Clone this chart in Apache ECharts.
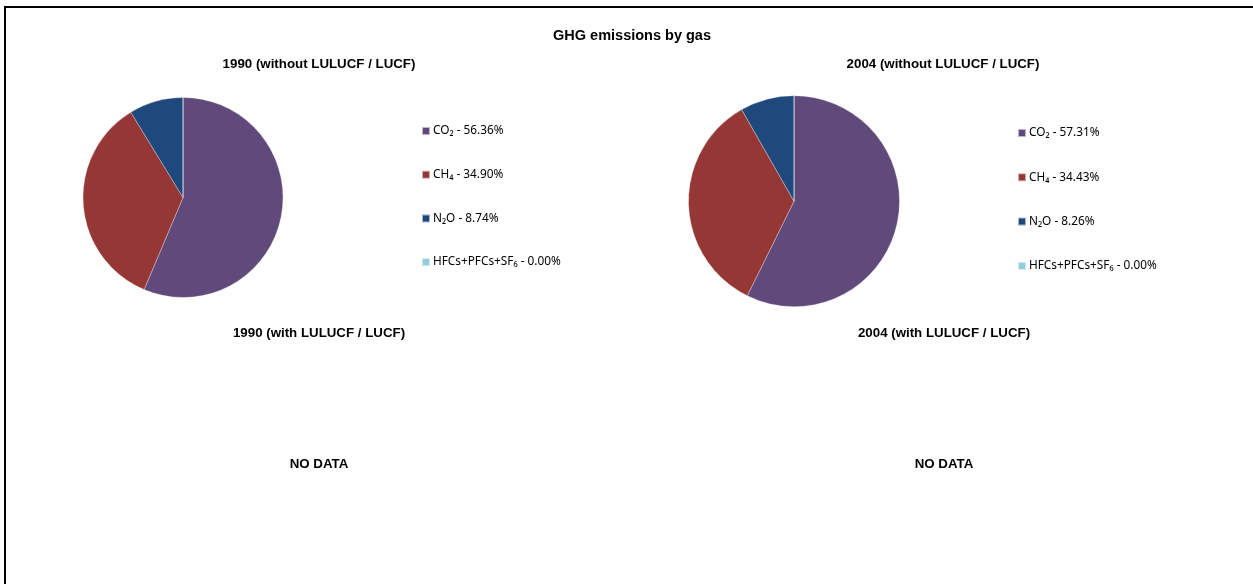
<!DOCTYPE html>
<html>
<head>
<meta charset="utf-8">
<script src="https://cdn.jsdelivr.net/npm/echarts@6/dist/echarts.min.js"></script>
<style>
html,body{margin:0;padding:0;background:#fff;}
#chart{width:1253px;height:584px;}
</style>
</head>
<body>
<div id="chart"></div>
<script>
// ---- data ----
const gases = ['CO₂', 'CH₄', 'N₂O', 'HFCs+PFCs+SF₆'];
const values1990 = [56.36, 34.90, 8.74, 0.00];
const values2004 = [57.31, 34.43, 8.26, 0.00];
const gasColors = ['#604A7B', '#953735', '#1F497D', '#93CDDD'];
const mainTitle = 'GHG emissions by gas';
const panelTitles = ['1990 (without LULUCF / LUCF)', '2004 (without LULUCF / LUCF)', '1990 (with LULUCF / LUCF)', '2004 (with LULUCF / LUCF)'];
const noDataText = 'NO DATA';

const chart = echarts.init(document.getElementById('chart'), null, {renderer: 'canvas'});

const boldFont = 'Liberation Sans, Arial, sans-serif';
const legendFont = 'Noto Sans, DejaVu Sans, sans-serif';

function mkTitle(text, x, y, size) {
  return {
    text: text, left: x, top: y, padding: 0,
    textAlign: 'center', textVerticalAlign: 'middle',
    textStyle: {fontFamily: boldFont, fontWeight: 'bold', fontSize: size, color: '#000'}
  };
}

function mkData(vals) {
  return gases.map((g, i) => ({name: g, value: vals[i], itemStyle: {color: gasColors[i]}}));
}

function mkLegend(vals, x, y, gap) {
  return {
    orient: 'vertical', left: x, top: y, padding: 0,
    itemWidth: 8, itemHeight: 8, itemGap: gap, icon: 'rect',
    data: gases,
    selectedMode: false,
    formatter: function (name) {
      const i = gases.indexOf(name);
      return name + ' - ' + vals[i].toFixed(2) + '%';
    },
    textStyle: {fontFamily: legendFont, fontSize: 11.8, color: '#000', lineHeight: 14, padding: [0, 0, 0, -2]}
  };
}

function mkPie(vals, cx, cy, r) {
  return {
    type: 'pie', center: [cx, cy], radius: r,
    startAngle: 90, clockwise: true,
    label: {show: false}, labelLine: {show: false},
    emphasis: {disabled: true},
    itemStyle: {borderColor: 'rgba(255,255,255,0.6)', borderWidth: 0.5},
    data: mkData(vals)
  };
}

chart.setOption({
  animation: false,
  backgroundColor: '#fff',
  title: [
    mkTitle(mainTitle, 632, 36, 14.5),
    mkTitle(panelTitles[0], 319, 64, 13.3),
    mkTitle(panelTitles[1], 943, 64, 13.3),
    mkTitle(panelTitles[2], 319, 333.5, 13.3),
    mkTitle(panelTitles[3], 944, 333.5, 13.3),
    mkTitle(noDataText, 319, 464, 13.3),
    mkTitle(noDataText, 944, 464, 13.3)
  ],
  legend: [
    mkLegend(values1990, 421, 124, 29.7),
    mkLegend(values2004, 1017, 126, 30.3)
  ],
  series: [
    mkPie(values1990, 183, 197.5, 100),
    mkPie(values2004, 794, 201.2, 105.5)
  ],
  graphic: [{
    type: 'rect', silent: true, z: 100,
    shape: {x: 5, y: 7, width: 1300, height: 700},
    style: {fill: 'none', stroke: '#000', lineWidth: 2}
  }]
});
</script>
</body>
</html>
